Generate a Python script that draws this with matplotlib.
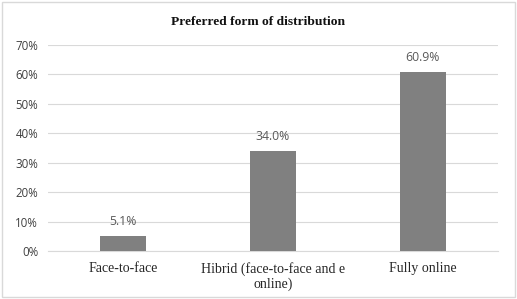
import numpy as np
import matplotlib.pyplot as plt
from matplotlib.patches import Rectangle

categories = ["Face-to-face", "Hibrid (face-to-face and e\nonline)", "Fully online"]
values = [5.1, 34.0, 60.9]
yticks = [0, 10, 20, 30, 40, 50, 60, 70]

fig = plt.figure(figsize=(5.17, 2.99), dpi=100)
ax = fig.add_axes([0.0928, 0.1605, 0.870, 0.689])

x = np.arange(len(categories))
ax.bar(x, values, width=0.31, color="#808080", zorder=3)

for xi, v in zip(x, values):
    ax.text(xi, v + 2.7, "%.1f%%" % v, ha="center", va="bottom",
            fontsize=8.8, color="#595959", family="Open Sans")

ax.set_xlim(-0.5, 2.5)
ax.set_ylim(0, 70)
ax.set_yticks(yticks)
ax.set_yticklabels(["%d%%" % t for t in yticks], family="Open Sans", fontsize=8.3, color="#404040")
ax.set_xticks(x)
ax.set_xticklabels(categories, family="Liberation Serif", fontsize=10, color="#262626", linespacing=1.15)
ax.tick_params(length=0, pad=8)
ax.tick_params(axis="y", pad=7)
ax.grid(axis="y", color="#d9d9d9", linewidth=0.8, zorder=0)
for s in ["top", "right", "left"]:
    ax.spines[s].set_visible(False)
ax.spines["bottom"].set_color("#d9d9d9")

fig.text(0.5, 0.926, "Preferred form of distribution", ha="center", va="center",
         family="Liberation Serif", fontweight="bold", fontsize=9.7, color="#111111")

fig.patches.append(Rectangle((0.004, 0.006), 0.992, 0.988, transform=fig.transFigure,
                             fill=False, edgecolor="#d9d9d9", linewidth=1))

fig.savefig("out.png", dpi=100)
